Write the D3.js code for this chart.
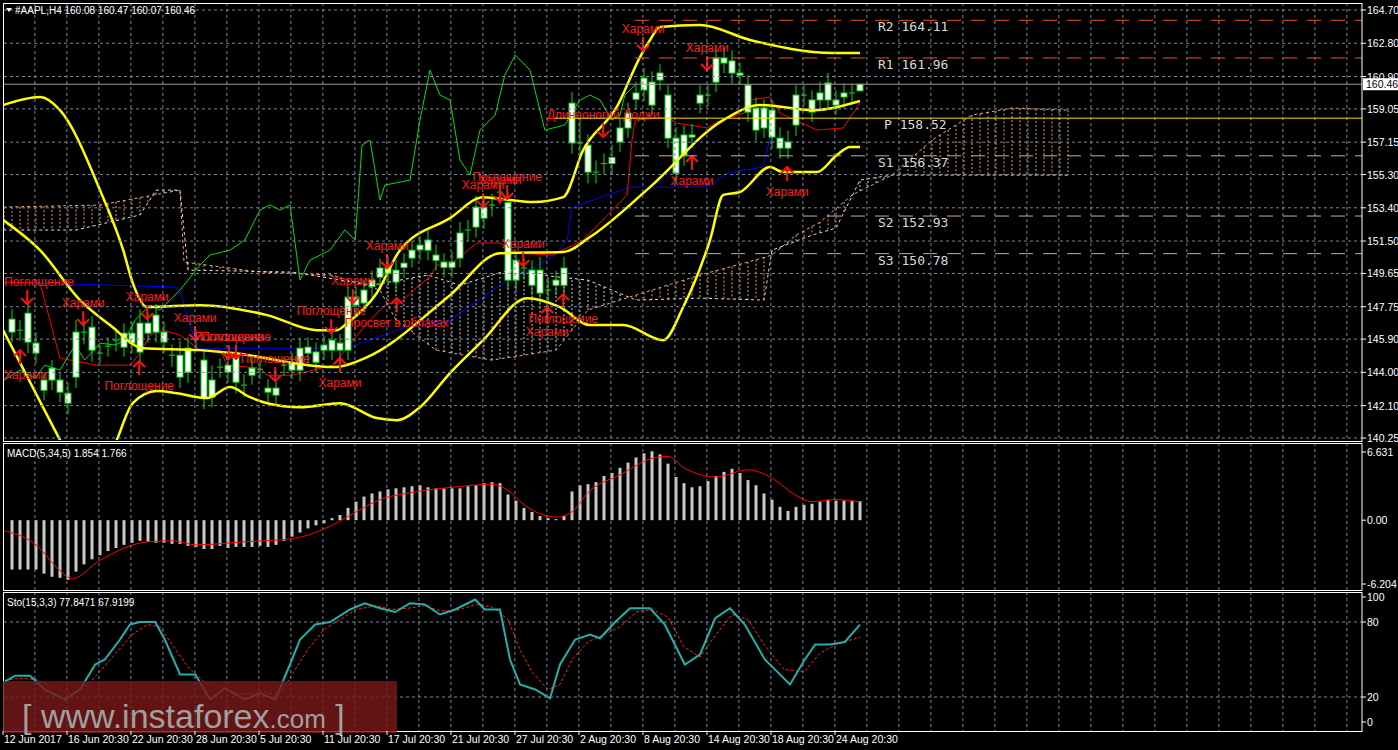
<!DOCTYPE html>
<html><head><meta charset="utf-8">
<script src="https://cdn.jsdelivr.net/npm/d3@7/dist/d3.min.js"></script>
<style>html,body{margin:0;padding:0;background:#000;overflow:hidden}</style>
</head><body><svg id="c" width="1398" height="750"></svg>
<script>
// ---------------- DATA ----------------
const header = "#AAPL,H4  160.08 160.47 160.07 160.46";
const open = [146.30,146.35,145.73,145.10,142.98,143.56,142.87,142.24,143.73,146.24,
145.27,145.05,145.45,145.80,145.44,145.67,145.16,146.24,146.30,145.73,
144.93,143.73,144.01,145.85,142.53,142.58,144.25,144.01,143.44,143.22,
143.84,144.13,142.87,142.70,144.36,144.13,144.13,145.10,144.58,145.27,
145.27,145.27,145.27,147.84,147.96,148.90,149.44,149.67,149.16,150.00,
150.53,151.00,150.98,150.40,150.00,150.00,150.53,152.08,152.30,152.81,
153.50,154.25,153.70,149.27,149.90,148.98,148.53,148.65,148.98,148.98,
157.10,157.05,155.44,155.40,155.88,155.93,157.16,157.96,159.60,160.13,
159.27,160.70,157.38,155.38,156.41,157.44,159.38,159.80,160.58,161.67,
161.10,160.98,158.87,157.84,157.96,157.44,156.81,156.81,158.13,159.80,
158.87,159.56,159.56,159.27,159.73,159.92,160.08];
const close = [147.04,146.41,147.38,145.67,143.56,144.24,143.56,142.81,146.30,146.30,
146.58,145.10,145.50,145.84,146.24,146.24,146.81,146.81,147.27,146.30,
144.98,144.98,145.38,145.90,144.70,143.56,144.30,144.41,144.87,143.27,
144.24,144.18,143.10,143.10,144.41,144.53,145.38,145.44,145.16,145.56,
145.84,145.67,148.30,148.30,148.70,149.27,149.96,149.96,149.84,150.24,
150.98,151.27,151.56,150.70,150.30,150.30,151.96,152.13,153.44,153.44,
153.56,154.30,149.27,150.41,149.96,149.84,149.84,148.70,149.27,149.96,
159.38,157.10,156.98,155.44,155.93,156.27,157.96,158.81,159.96,160.81,
160.58,161.10,159.84,157.38,157.56,157.56,159.84,159.84,161.96,161.96,
161.79,161.10,160.41,159.10,159.10,158.98,157.38,157.16,159.84,159.84,
159.56,159.96,160.53,159.56,159.96,159.96,160.46];
const high = [147.6,147.0,147.9,146.3,144.0,144.7,144.0,143.4,147.0,147.0,
147.2,145.6,146.0,146.5,146.8,146.9,147.6,147.4,147.9,146.9,
145.6,145.8,146.0,146.4,145.3,144.4,144.8,145.0,145.6,143.9,
144.9,144.7,143.6,143.6,144.9,145.1,146.0,146.0,145.7,146.1,
146.4,146.2,148.9,148.9,149.3,149.8,150.5,150.6,150.4,150.8,
151.5,151.8,152.1,151.3,150.8,150.9,152.6,152.7,154.1,154.1,
154.2,154.9,154.3,150.9,150.5,150.4,150.6,149.3,149.8,150.6,
160.0,158.5,157.6,156.1,156.5,157.0,158.5,159.4,160.6,161.4,
161.2,161.6,160.4,158.0,158.1,158.2,160.4,160.4,162.5,162.6,
162.4,161.7,161.0,159.7,159.6,159.5,158.0,157.8,160.4,160.4,
160.1,160.6,161.1,160.1,160.5,160.5,160.47];
const low = [145.7,145.8,145.1,144.5,142.4,143.0,142.3,141.6,143.1,145.6,
144.6,144.5,144.9,145.2,144.9,145.1,144.6,145.7,145.7,145.1,
144.3,143.1,143.4,145.3,141.9,142.0,143.7,143.4,142.8,142.6,
143.3,143.6,142.3,142.1,143.8,143.6,143.5,144.5,144.0,144.7,
144.7,144.7,144.7,147.2,147.4,148.3,148.8,149.1,148.6,149.4,
150.0,150.4,150.4,149.8,149.4,149.4,150.0,151.5,151.7,152.2,
152.9,153.6,148.7,148.7,149.3,148.4,147.9,148.0,148.4,148.4,
156.5,156.4,154.8,154.8,155.3,155.3,156.6,157.4,159.0,159.5,
158.7,160.1,156.8,154.8,155.8,156.8,158.8,159.2,160.0,161.1,
160.5,160.4,158.3,157.2,157.4,156.8,156.2,156.2,157.5,159.2,
158.3,159.0,159.0,158.7,159.1,159.3,160.07];

// Bollinger bands [barIndex, price]
const bbUpper = [[-1.1,159.27],[3.5,159.73],[6,158.98],[11,154.41],[13.9,150.98],[15.1,149.10],[16.9,147.73],[23.5,147.84],[31.9,147.27],[38.1,146.41],[40.6,146.41],[41.9,146.81],[45.6,148.53],[48.5,150.98],[54.75,152.81],[58.9,154.01],[62.25,153.84],[65.1,153.73],[68.9,154.01],[71.4,156.70],[75.6,159.16],[78.5,162.01],[79.75,162.99],[81,163.73],[86,163.84],[92.25,162.99],[102.6,162.24],[106,162.24]];
const bbMiddle = [[-1.1,152.70],[3.5,150.98],[8.5,148.13],[12.25,146.70],[16.4,145.38],[23.5,145.27],[27.6,145.10],[40.1,144.30],[44.4,144.87],[54.75,148.41],[61,150.81],[68.9,150.87],[72.25,151.73],[79.75,154.58],[88.9,158.41],[93.5,159.27],[100.1,158.98],[106,159.50]];
const bbLower = [[-1.1,146.41],[6,140.13],[8,138.4],[11,137.8],[13.1,140.13],[15.1,142.24],[18.1,142.93],[20.6,142.81],[24.4,142.53],[27.25,143.16],[29.75,142.58],[31.9,142.24],[36,142.01],[41,142.24],[45.6,141.39],[48.1,141.27],[51,142.01],[54.75,143.96],[58.9,145.84],[64.4,148.24],[68.5,147.73],[72.25,146.70],[76.4,146.70],[81.4,145.84],[83.9,147.73],[87.25,151.56],[88.9,154.13],[91,154.30],[94.75,155.73],[96.4,155.44],[100.6,155.44],[103.1,156.41],[104.75,156.87],[106,156.87]];
// Ichimoku
const tenkan = [[-1.5,149.16],[3.5,149.10],[6,144.81],[10.6,144.41],[14.75,144.41],[16,145.10],[17.25,146.13],[18.9,146.41],[21,146.13],[23.5,145.27],[26,145.27],[26.9,144.41],[31,144.24],[31.9,143.84],[35.1,143.84],[40.1,144.41],[44.4,146.81],[46.9,147.96],[48.5,147.96],[50.6,148.87],[52.25,149.44],[53.1,150.13],[54.75,150.13],[58.1,151.39],[61,151.39],[63.1,150.81],[67.6,150.70],[71.4,151.56],[76.9,154.13],[77.5,157.27],[77.9,158.41],[81.9,158.58],[83.1,158.24],[86.9,157.96],[88.1,158.30],[91.9,158.87],[92.25,159.56],[94.75,159.73],[96,158.81],[100.6,157.84],[103.9,157.96],[106,159.38]];
const kijun = [[-1.5,149.10],[3.1,149.10],[20.6,148.87],[21.25,148.30],[23.1,145.38],[41.9,145.38],[48.9,146.53],[54.75,146.98],[61,148.98],[67.6,150.59],[69.4,151.56],[70,153.41],[77.25,154.58],[86.9,154.58],[89.4,155.38],[93.9,155.73],[94.75,157.44],[95.4,158.98]];
const chikou = [[-1,143.56],[1,144.13],[2.9,143.67],[4.1,144.41],[6,144.13],[7.9,145.56],[9.1,144.70],[11,145.67],[12.9,145.56],[14.1,145.84],[15.4,146.98],[17.25,147.84],[18.5,147.56],[21,148.70],[23.5,150.13],[24.75,150.70],[27.25,150.98],[29.1,151.56],[31,153.27],[32.25,153.56],[33.5,153.27],[34.75,153.56],[36,149.27],[37.25,150.41],[39.75,150.98],[41.6,152.13],[42.9,151.56],[43.75,156.98],[44.75,157.27],[46,153.84],[46.6,154.70],[49.75,154.98],[51,158.41],[52.25,161.27],[53.5,159.84],[54.75,159.56],[56,156.13],[57.25,155.27],[58.5,157.84],[60.4,158.70],[61.6,160.98],[62.9,162.13],[64.75,161.27],[66.6,157.84],[69.1,158.13],[71,159.56],[72.25,159.84],[73.5,159.56],[75,158.41],[76,158.70],[76.6,159.84],[77.9,160.41]];
const spanA = [[-1.1,153.44],[11,153.56],[21,154.41],[21.5,150.30],[31,149.73],[40,149.56],[46,148.70],[48,146.98],[53,145.27],[60,144.70],[68,145.27],[72,147.56],[76,148.13],[80,148.70],[86,149.56],[92,150.30],[95,150.70],[98,151.84],[101,152.58],[105,154.13],[110,155.27],[115,157.27],[120,158.70],[125,159.10],[132,158.98]];
const spanB = [[-1.1,152.13],[8,152.13],[16,152.99],[18,154.41],[21,154.41],[22,149.84],[35,149.73],[45,148.98],[52,149.56],[56,148.98],[62,149.84],[66,149.56],[72,149.27],[78,148.13],[86,148.24],[94,148.13],[95,150.98],[100,151.84],[103,152.24],[106,154.98],[110,155.27],[118,155.27],[125,155.27],[132,155.27]];
// Pivots
const pivots = [["R2",164.11],["R1",161.96],["P",158.52],["S1",156.37],["S2",152.93],["S3",150.78]];
const lastPrice = 160.46;
const priceTicks = [164.70,162.80,160.90,159.05,157.15,155.30,153.40,151.50,149.65,147.75,145.90,144.00,142.10,140.25];
// Patterns [barIndex, price, direction, text]
const patterns = [[1.9,148.30,"down","Поглощение"],[8.9,147.10,"down","Харами"],[16.9,147.44,"down","Харами"],[22.9,146.24,"down","Харами"],[27.1,145.16,"down","Поглощение"],[28,145.16,"down","Поглощение"],[32.9,143.90,"down","Поглощение"],[39.9,146.64,"down","Поглощение"],[42.6,148.36,"down","Харами"],[46.9,150.36,"down","Харами"],[58.9,153.84,"down","Харами"],[61,154.13,"down","Харами"],[61.9,154.30,"down","Поглощение"],[63.9,150.47,"down","Харами"],[73.9,157.84,"down","Длинноногий Доджи"],[78.9,162.76,"down","Харами"],[86.9,161.67,"down","Харами"],
[1,144.87,"up","Харами"],[15.9,144.24,"up","Поглощение"],[41,144.41,"up","Харами"],[48.1,147.84,"up","Просвет в облаках"],[66.9,147.33,"up","Харами"],[68.9,148.07,"up","Поглощение"],[85,155.96,"up","Харами"],[96.9,155.33,"up","Харами"]];
// MACD
const macdLabel = "MACD(5,34,5) 1.854 1.766";
const macdHist = [-4.8,-4.8,-4.8,-4.8,-5.2,-5.5,-5.6,-5.8,-5.0,-4.3,-3.8,-3.4,-3.0,-2.7,-2.4,-2.2,-2.0,-2.1,-2.2,-2.2,-2.3,-2.3,-2.5,-2.6,-2.8,-2.8,-2.5,-2.7,-2.6,-2.6,-2.6,-2.5,-2.6,-2.4,-2.0,-1.6,-1.2,-0.8,-0.5,-0.3,0.2,0.5,1.2,1.8,2.3,2.6,2.8,3.0,3.1,3.2,3.3,3.4,3.2,3.1,3.1,3.1,3.1,3.3,3.4,3.6,3.7,3.6,2.5,1.9,1.2,0.8,0.4,0.2,0.1,0.4,2.8,3.4,3.5,3.7,4.3,4.6,5.1,5.6,6.1,6.5,6.7,6.4,5.5,4.2,3.6,3.2,3.3,3.8,4.3,4.7,5.0,4.6,3.9,3.4,2.6,2.0,1.3,0.9,1.3,1.5,1.6,1.8,2.0,1.9,1.9,1.9,1.854];
const macdSignal = [[-1.1,-1.0],[3,-2.4],[6,-4.9],[7.5,-5.7],[11,-3.9],[17,-2.1],[20,-2.0],[23,-2.4],[29,-2.1],[35,-1.8],[40,-0.5],[43,0.8],[46,2.0],[50,2.7],[55,3.2],[60,3.5],[62,2.9],[64,1.5],[68,0.3],[70,0.8],[72,2.7],[76,4.4],[80,6.0],[82,6.2],[84,5.1],[88,4.2],[92,4.9],[95,4.1],[98,2.4],[100,1.8],[103,2.0],[106,1.766]];
const macdTicks = [6.631,0.00,-6.204];
// Stochastic
const stoLabel = "Sto(15,3,3) 77.8471 67.9199";
const stoMain = [[-1.5,30],[0.4,37],[2.25,37],[4.1,26],[6.6,18],[8.5,26],[10.4,46],[11.6,50],[13.5,66],[14.75,78],[16,80],[17.9,80],[19.1,66],[21,38],[22.9,38],[24.75,18],[26.6,27],[29.1,18],[31,23],[32.9,18],[34.75,46],[36,66],[37.9,78],[39.75,80],[42.25,90],[44.1,95],[46,91],[47.9,88],[49.75,95],[51.6,94],[53.5,86],[55.4,90],[57.9,98],[59.1,90],[61,90],[62.25,50],[63.5,30],[65.4,26],[67.25,19],[68.5,46],[70.4,66],[72.25,70],[73.5,67],[75.4,80],[77.25,91],[79.75,91],[81.6,78],[84.1,46],[86,54],[87.9,83],[89.75,91],[91.6,78],[94.1,50],[97.25,30],[99.1,50],[100.4,62],[102.25,62],[104.1,64],[106,77.85]];
const stoSignal = [[-1.5,33],[1,35],[3,34],[5,28],[7.5,22],[9.5,30],[11.5,44],[13,55],[15,70],[17,78],[18.5,76],[20,62],[22,44],[24,32],[26,28],[28.5,22],[31,24],[33.5,22],[35,38],[37,58],[39,74],[41,82],[43,90],[45.5,93],[47.5,90],[49.5,91],[51.5,93],[53.5,89],[55.5,89],[58,94],[60,92],[62,82],[63.5,58],[65,40],[67,26],[68.5,30],[70,50],[72,64],[74,70],[76,76],[78,88],[80,90],[82,84],[84,60],[86,52],[88,70],[90,86],[92,82],[94,62],[96.5,42],[99,40],[101,55],[103,62],[106,67.92]];
const stoTicks = [100,80,20,0];
const dateLabels = ["12 Jun 2017","16 Jun 20:30","22 Jun 20:30","28 Jun 20:30","5 Jul 20:30","11 Jul 20:30","17 Jul 20:30","21 Jul 20:30","27 Jul 20:30","2 Aug 20:30","8 Aug 20:30","14 Aug 20:30","18 Aug 20:30","24 Aug 20:30"];

// ---------------- DRAW ----------------
const svg = d3.select("#c");
const F = "'Liberation Sans', Arial, sans-serif";
svg.append("rect").attr("width",1398).attr("height",750).attr("fill","#000");
const R = 1362;
const x = d3.scaleLinear().domain([0,106]).range([12,860]);
const yM = d3.scaleLinear().domain([140.25,164.70]).range([438,10]);
const yD = d3.scaleLinear().domain([-6.204,6.631]).range([584,452]);
const yS = d3.scaleLinear().domain([0,100]).range([722,597]);
const panels = [[3,441],[443,590],[592,731]];
const defs = svg.append("defs");
panels.forEach((p,i)=>defs.append("clipPath").attr("id","cp"+i).append("rect").attr("x",4).attr("y",p[0]+1).attr("width",R-5).attr("height",p[1]-p[0]-2));
const gM = svg.append("g").attr("clip-path","url(#cp0)");
const gD = svg.append("g").attr("clip-path","url(#cp1)");
const gS = svg.append("g").attr("clip-path","url(#cp2)");
const gridC = "#7d8799";
for(let k=0;k<42;k++){
  const gx = x(2.86+4*k); if(gx>=R) break;
  panels.forEach(p=>svg.append("line").attr("x1",gx).attr("x2",gx).attr("y1",p[0]).attr("y2",p[1]).attr("stroke",gridC).attr("stroke-dasharray","3,3"));
}
priceTicks.forEach(t=>svg.append("line").attr("x1",4).attr("x2",R).attr("y1",yM(t)).attr("y2",yM(t)).attr("stroke",gridC).attr("stroke-dasharray","3,3"));
[80,20].forEach(t=>svg.append("line").attr("x1",4).attr("x2",R).attr("y1",yS(t)).attr("y2",yS(t)).attr("stroke",gridC).attr("stroke-dasharray","3,3"));

// cloud
const iA = d3.scaleLinear().domain(spanA.map(d=>d[0])).range(spanA.map(d=>d[1]));
const iB = d3.scaleLinear().domain(spanB.map(d=>d[0])).range(spanB.map(d=>d[1]));
for(let i=-1;i<=132;i++){
  const a=iA(i), b=iB(i);
  gM.append("line").attr("x1",x(i)).attr("x2",x(i)).attr("y1",yM(a)).attr("y2",yM(b))
    .attr("stroke", a<b ? "#d8d0d0" : "#e0a070").attr("stroke-dasharray","2,2").attr("stroke-width",1);
}
const ln = (ys)=>d3.line().x(d=>x(d[0])).y(d=>ys(d[1]));
gM.append("path").attr("d",ln(yM)(spanA)).attr("fill","none").attr("stroke","#f0a878").attr("stroke-dasharray","3,3");
gM.append("path").attr("d",ln(yM)(spanB)).attr("fill","none").attr("stroke","#e8e0e0").attr("stroke-dasharray","3,3");

// pivots
pivots.forEach(([n,v])=>{
  const col = n[0]==="R" ? "#f05020" : n==="P" ? "#f0dc00" : "#d0a898";
  const x0 = n==="P" ? 555 : 635;
  svg.append("line").attr("x1",x0).attr("x2",R).attr("y1",yM(v)).attr("y2",yM(v)).attr("stroke",col)
    .attr("stroke-dasharray", n==="P" ? null : "14,10");
  svg.append("text").attr("x",n==="P"?884:878).attr("y",yM(v)+11).attr("fill","#d8d8d8")
    .attr("font-family","'DejaVu Sans Mono', monospace").attr("font-size",13).text(n+" "+v.toFixed(2));
});
svg.append("line").attr("x1",4).attr("x2",R).attr("y1",yM(lastPrice)).attr("y2",yM(lastPrice)).attr("stroke","#9a9a9a");

// ichimoku lines
gM.append("path").attr("d",ln(yM)(chikou)).attr("fill","none").attr("stroke","#00e000");
gM.append("path").attr("d",ln(yM)(kijun)).attr("fill","none").attr("stroke","#0000ff");
gM.append("path").attr("d",ln(yM)(tenkan)).attr("fill","none").attr("stroke","#ff0000");

// candles
open.forEach((o,i)=>{
  const c=close[i], cx=x(i);
  gM.append("line").attr("x1",cx).attr("x2",cx).attr("y1",yM(high[i])).attr("y2",yM(low[i])).attr("stroke","#00e000");
  const t=yM(Math.max(o,c)), b=yM(Math.min(o,c));
  if(b-t<2) gM.append("line").attr("x1",cx-3).attr("x2",cx+3).attr("y1",t).attr("y2",t).attr("stroke","#00e000");
  else gM.append("rect").attr("x",cx-3).attr("y",t).attr("width",6).attr("height",b-t).attr("fill","#fff").attr("stroke","#00e000");
});

// bollinger
const curve = (ys)=>d3.line().x(d=>x(d[0])).y(d=>ys(d[1])).curve(d3.curveMonotoneX);
[bbUpper,bbMiddle,bbLower].forEach(b=>gM.append("path").attr("d",curve(yM)(b)).attr("fill","none").attr("stroke","#ffff00").attr("stroke-width",2.5));

// pattern labels
patterns.forEach(([i,p,dir,t])=>{
  const cx=x(i), cy=yM(p), s = dir==="down"?1:-1;
  const g=gM.append("g");
  g.append("line").attr("x1",cx).attr("x2",cx).attr("y1",cy-7*s).attr("y2",cy+6*s).attr("stroke","#ff1010").attr("stroke-width",2);
  g.append("path").attr("d",`M${cx-6},${cy+1*s} L${cx},${cy+7*s} L${cx+6},${cy+1*s}`).attr("fill","none").attr("stroke","#ff1010").attr("stroke-width",2);
  const tx = Math.max(cx, 5 + t.length*3.4);
  g.append("text").attr("x",tx).attr("y", dir==="down"? cy-11 : cy+22).attr("text-anchor","middle")
    .attr("fill","#ff1a1a").attr("font-family",F).attr("font-size",12).text(t);
});

// MACD
macdHist.forEach((v,i)=>gD.append("rect").attr("x",x(i)-1.5).attr("width",3).attr("y",Math.min(yD(v),yD(0))).attr("height",Math.abs(yD(v)-yD(0))).attr("fill","#c8c8c8"));
gD.append("path").attr("d",curve(yD)(macdSignal)).attr("fill","none").attr("stroke","#ff0000");

// Stochastic
gS.append("path").attr("d",ln(yS)(stoSignal)).attr("fill","none").attr("stroke","#ff2020").attr("stroke-dasharray","3,2");
gS.append("path").attr("d",ln(yS)(stoMain)).attr("fill","none").attr("stroke","#20b2aa").attr("stroke-width",2);

panels.forEach(p=>svg.append("rect").attr("x",3.5).attr("y",p[0]+0.5).attr("width",R-3.5).attr("height",p[1]-p[0]).attr("fill","none").attr("stroke","#fff"));

const axT = (y,label)=>{ svg.append("line").attr("x1",R).attr("x2",R+4).attr("y1",y).attr("y2",y).attr("stroke","#fff");
  svg.append("text").attr("x",R+5).attr("y",y+4).attr("fill","#fff").attr("font-family",F).attr("font-size",10.5).text(label); };
priceTicks.forEach(t=>axT(yM(t),t.toFixed(2)));
svg.append("rect").attr("x",R+1).attr("y",yM(lastPrice)-6).attr("width",35).attr("height",12).attr("fill","#fff");
svg.append("text").attr("x",R+4).attr("y",yM(lastPrice)+4).attr("fill","#000").attr("font-family",F).attr("font-size",10.5).text(lastPrice.toFixed(2));
macdTicks.forEach(t=>axT(yD(t),t.toFixed(t===0?2:3)));
stoTicks.forEach(t=>axT(yS(t),String(t)));

svg.append("path").attr("d","M6,8 L12,8 L9,12 Z").attr("fill","#fff");
svg.append("text").attr("x",15).attr("y",14).attr("fill","#fff").attr("font-family",F).attr("font-size",10).text(header);
svg.append("text").attr("x",7).attr("y",457).attr("fill","#fff").attr("font-family",F).attr("font-size",10).text(macdLabel);
svg.append("text").attr("x",7).attr("y",606).attr("fill","#fff").attr("font-family",F).attr("font-size",10).text(stoLabel);

svg.append("rect").attr("x",3).attr("y",681).attr("width",394).attr("height",52).attr("fill","rgba(120,25,25,0.82)");
const wt = svg.append("text").attr("x",22).attr("y",728).attr("fill","#a0a0a0").attr("font-family",F).attr("font-size",34);
wt.append("tspan").text("[ www.instaforex");
wt.append("tspan").attr("font-size",26).text(".com");
wt.append("tspan").text(" ]");

dateLabels.forEach((d,k)=>{
  const dx = x(-1.125+8*k);
  svg.append("line").attr("x1",dx).attr("x2",dx).attr("y1",731).attr("y2",735).attr("stroke","#fff");
  svg.append("text").attr("x",dx+1).attr("y",743).attr("fill","#fff").attr("font-family",F).attr("font-size",10.5).text(d);
});
</script></body></html>
